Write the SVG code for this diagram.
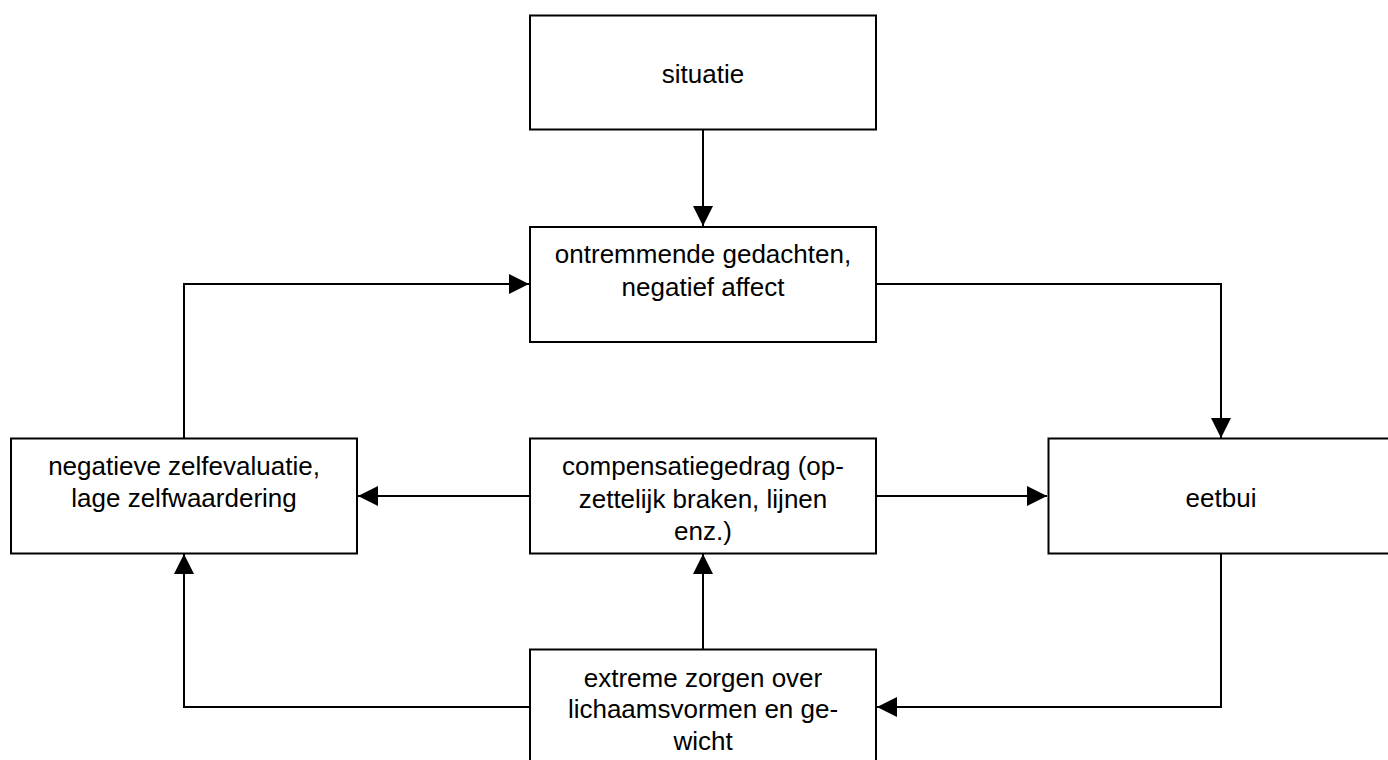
<svg xmlns="http://www.w3.org/2000/svg" width="1388" height="760" viewBox="0 0 1388 760">
<style>
.box{fill:#fff;stroke:#000;stroke-width:2}
.t{font-family:"Liberation Sans",Arial,sans-serif;font-size:26px;fill:#000;text-anchor:middle}
.c{fill:none;stroke:#000;stroke-width:2}
</style>
<defs>
<marker id="ah" viewBox="0 0 20 20" refX="20" refY="10" markerWidth="20" markerHeight="20" markerUnits="userSpaceOnUse" orient="auto">
<path d="M0,0 L20,10 L0,20 Z" fill="#000"/>
</marker>
</defs>
<g id="connectors">
<path class="c" d="M703,130 V226" marker-end="url(#ah)"/>
<path class="c" d="M876,284 H1221 V438" marker-end="url(#ah)"/>
<path class="c" d="M1221,553 V707 H877" marker-end="url(#ah)"/>
<path class="c" d="M530,707 H184 V554" marker-end="url(#ah)"/>
<path class="c" d="M703,649 V554" marker-end="url(#ah)"/>
<path class="c" d="M530,496 H358" marker-end="url(#ah)"/>
<path class="c" d="M876,496 H1047" marker-end="url(#ah)"/>
<path class="c" d="M184,438 V284 H529" marker-end="url(#ah)"/>
</g>
<g id="situatie">
<rect class="box" x="530" y="15.5" width="346" height="114"/>
<text class="t" x="703" y="83">situatie</text>
</g>
<g id="ontremmende">
<rect class="box" x="530" y="227" width="346" height="115"/>
<text class="t" x="703" y="263">ontremmende gedachten,</text>
<text class="t" x="703" y="296">negatief affect</text>
</g>
<g id="negatieve">
<rect class="box" x="11" y="438.5" width="346" height="115"/>
<text class="t" x="184" y="475">negatieve zelfevaluatie,</text>
<text class="t" x="184" y="507">lage zelfwaardering</text>
</g>
<g id="compensatie">
<rect class="box" x="530" y="438.5" width="346" height="115"/>
<text class="t" x="703" y="475">compensatiegedrag (op-</text>
<text class="t" x="703" y="508">zettelijk braken, lijnen</text>
<text class="t" x="703" y="540">enz.)</text>
</g>
<g id="eetbui">
<rect class="box" x="1048.5" y="438.5" width="346" height="115"/>
<text class="t" x="1221" y="507">eetbui</text>
</g>
<g id="extreme">
<rect class="box" x="530" y="649.5" width="346" height="130"/>
<text class="t" x="703" y="687">extreme zorgen over</text>
<text class="t" x="703" y="718">lichaamsvormen en ge-</text>
<text class="t" x="703" y="750">wicht</text>
</g>
</svg>
